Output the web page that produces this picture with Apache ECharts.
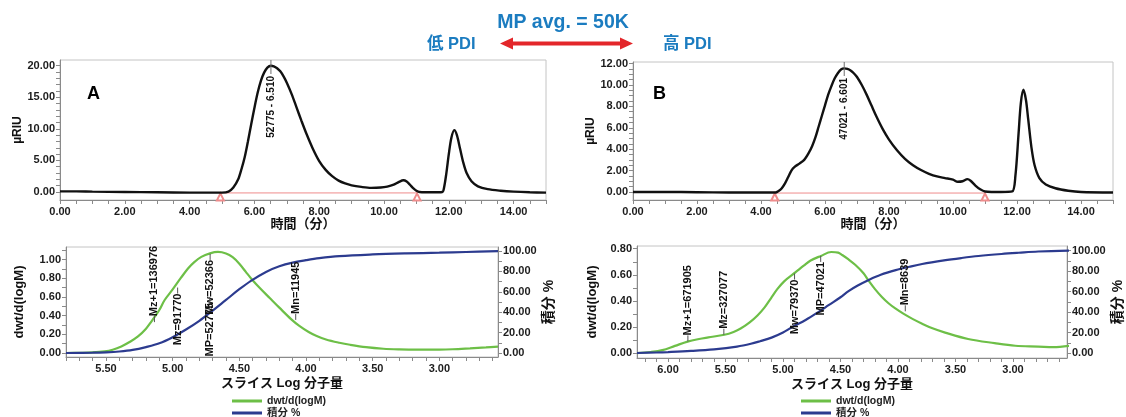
<!DOCTYPE html>
<html lang="ja">
<head>
<meta charset="utf-8">
<title>GPC MP avg. = 50K</title>
<script src="https://cdn.jsdelivr.net/npm/echarts@6.0.0/dist/echarts.min.js"></script>
<style>
  html, body { margin: 0; padding: 0; background: #ffffff; }
  #chart { width: 1126px; height: 417px; }
</style>
</head>
<body>
<div id="chart"></div>
<script>
// ---------- Chromatogram A: retention time (min) / RI response (µRIU) ----------
const timeA = [0.0, 0.5, 1.0, 2.0, 3.0, 4.0, 4.6, 5.0, 5.2, 5.35, 5.5, 5.6, 5.7, 5.8, 5.9, 6.0,
  6.1, 6.2, 6.3, 6.4, 6.51, 6.6, 6.7, 6.8, 6.9, 7.0, 7.15, 7.3, 7.45, 7.6, 7.8, 8.0,
  8.2, 8.4, 8.6, 8.8, 9.0, 9.3, 9.6, 9.9, 10.1, 10.3, 10.45, 10.6, 10.7, 10.8, 10.9, 11.0,
  11.1, 11.5, 11.8, 11.85, 11.92, 12.0, 12.08, 12.17, 12.25, 12.35, 12.45, 12.55, 12.7, 12.9, 13.2, 13.6,
  14.0, 14.5, 15.0];
const riuA = [0.1, 0.1, 0.05, 0.0, -0.05, -0.1, -0.1, -0.1, 0.05, 0.7, 2.0, 3.6, 5.5, 8.0, 10.7, 13.3,
  15.7, 17.6, 18.9, 19.7, 20.0, 19.9, 19.6, 19.1, 18.3, 17.3, 15.5, 13.4, 11.3, 9.3, 6.9, 4.9,
  3.5, 2.5, 1.8, 1.35, 1.05, 0.8, 0.65, 0.7, 0.85, 1.15, 1.55, 1.85, 1.65, 1.15, 0.6, 0.2,
  0.0, -0.05, 0.0, 0.6, 2.8, 6.0, 8.6, 9.8, 9.0, 6.8, 4.6, 3.0, 1.7, 0.9, 0.45, 0.2,
  0.05, -0.05, -0.1];
const peakMpA = 52775;
const peakTimeA = 6.510;
const baseTimesA = [4.95, 11.02];
const baseLevelA = -0.15;

// ---------- Chromatogram B ----------
const timeB = [0.0, 1.0, 2.0, 3.0, 4.0, 4.45, 4.55, 4.65, 4.75, 4.85, 4.95, 5.05, 5.2, 5.35, 5.5, 5.6,
  5.7, 5.8, 5.9, 6.0, 6.1, 6.2, 6.3, 6.4, 6.5, 6.601, 6.7, 6.8, 6.9, 7.0, 7.15, 7.3,
  7.45, 7.6, 7.8, 8.0, 8.25, 8.5, 8.75, 9.0, 9.25, 9.5, 9.75, 10.0, 10.15, 10.3, 10.45, 10.55,
  10.7, 10.85, 11.0, 11.5, 11.85, 11.95, 12.05, 12.12, 12.2, 12.28, 12.35, 12.45, 12.55, 12.7, 12.9, 13.2,
  13.6, 14.0, 15.0];
const riuB = [0.0, 0.0, -0.02, -0.05, -0.05, -0.05, 0.1, 0.35, 0.8, 1.4, 2.0, 2.35, 2.65, 3.0, 3.7, 4.3,
  5.1, 6.1, 7.1, 8.1, 9.1, 9.9, 10.6, 11.1, 11.45, 11.55, 11.5, 11.35, 11.1, 10.75, 10.0, 9.1,
  8.1, 7.1, 5.9, 4.9, 3.9, 3.1, 2.5, 2.05, 1.7, 1.45, 1.3, 1.15, 0.95, 1.0, 1.2, 1.05,
  0.6, 0.25, 0.05, 0.0, 0.05, 1.5, 5.5, 8.3, 9.55, 8.6, 6.8, 4.2, 2.5, 1.3, 0.7, 0.35,
  0.12, 0.0, -0.05];
const peakMpB = 47021;
const peakTimeB = 6.601;
const baseTimesB = [4.43, 11.0];
const baseLevelB = -0.1;

// ---------- Slice distribution A: dwt/d(logM) and cumulative % ----------
const logMDwtA = [5.80, 5.70, 5.60, 5.51, 5.45, 5.385, 5.32, 5.26, 5.20, 5.16, 5.10, 5.06, 5.00, 4.94, 4.885, 4.84,
  4.785, 4.72, 4.66, 4.60, 4.55, 4.50, 4.45, 4.41, 4.35, 4.27, 4.20, 4.11, 4.05, 3.98, 3.92, 3.85,
  3.75, 3.67, 3.55, 3.42, 3.30, 3.17, 3.00, 2.90, 2.77, 2.65, 2.56];
const dwtA = [0.000, 0.002, 0.006, 0.017, 0.035, 0.07, 0.12, 0.177, 0.26, 0.336, 0.46, 0.567, 0.68, 0.80, 0.904, 0.97,
  1.028, 1.066, 1.081, 1.065, 1.025, 0.955, 0.865, 0.795, 0.70, 0.585, 0.485, 0.36, 0.29, 0.225, 0.182, 0.145,
  0.11, 0.088, 0.062, 0.045, 0.038, 0.035, 0.036, 0.040, 0.050, 0.060, 0.068];
const logMCumA = [5.80, 5.60, 5.50, 5.40, 5.30, 5.20, 5.10, 5.00, 4.90, 4.80, 4.70, 4.60, 4.50, 4.41, 4.30, 4.20,
  4.10, 4.00, 3.90, 3.75, 3.50, 3.25, 3.00, 2.80, 2.56];
const cumA = [0.0, 0.3, 0.7, 1.5, 3.0, 5.8, 9.5, 15.5, 23.0, 31.5, 41.5, 52.0, 62.5, 71.0, 79.5, 85.0,
  88.6, 91.0, 93.0, 95.0, 96.6, 97.6, 98.3, 99.0, 99.8];
// molecular-weight averages marked on the slice plot
const avgNamesA = ['Mz+1', 'Mz', 'Mw', 'MP', 'Mn'];
const avgValuesA = [136976, 91770, 52366, 52775, 11945];
const avgAnchorA = [0.33, 0.70, 1.06, 0.60, 0.354];   // dwt/d(logM) level where each leader starts
const avgDirA = [1, -1, -1, -1, 1];                    // 1 = label above, -1 = label below

// ---------- Slice distribution B ----------
const logMDwtB = [6.27, 6.15, 6.05, 5.94, 5.83, 5.73, 5.65, 5.51, 5.43, 5.365, 5.29, 5.22, 5.16, 5.105, 5.05, 4.99,
  4.89, 4.82, 4.76, 4.67, 4.58, 4.52, 4.485, 4.43, 4.37, 4.30, 4.254, 4.20, 4.14, 4.08, 4.02, 3.95,
  3.87, 3.79, 3.70, 3.59, 3.39, 3.16, 2.98, 2.78, 2.65, 2.51];
const dwtB = [0.000, 0.008, 0.022, 0.055, 0.088, 0.108, 0.12, 0.14, 0.162, 0.19, 0.235, 0.29, 0.35, 0.42, 0.49, 0.55,
  0.62, 0.67, 0.71, 0.745, 0.775, 0.77, 0.752, 0.718, 0.675, 0.612, 0.553, 0.49, 0.43, 0.38, 0.34, 0.30,
  0.26, 0.225, 0.19, 0.157, 0.108, 0.076, 0.056, 0.05, 0.045, 0.055];
const logMCumB = [6.27, 6.10, 6.00, 5.80, 5.60, 5.40, 5.28, 5.20, 5.10, 5.00, 4.93, 4.80, 4.70, 4.60, 4.50, 4.43,
  4.35, 4.25, 4.15, 4.02, 3.90, 3.79, 3.60, 3.45, 3.30, 3.10, 2.95, 2.78, 2.51];
const cumB = [0.0, 0.5, 0.9, 2.0, 3.6, 6.3, 9.0, 11.5, 15.0, 20.0, 24.7, 32.5, 39.5, 47.0, 54.5, 60.5,
  66.0, 71.7, 76.5, 81.0, 84.3, 87.0, 90.5, 92.8, 94.8, 96.8, 98.0, 99.2, 100.0];
const avgNamesB = ['Mz+1', 'Mz', 'Mw', 'MP', 'Mn'];
const avgValuesB = [671905, 327077, 79370, 47021, 8639];
const avgAnchorB = [0.089, 0.14, 0.61, 0.745, 0.32];
const avgDirB = [1, 1, -1, -1, 1];

// ---------- tick label values ----------
const timeTicks = [0, 2, 4, 6, 8, 10, 12, 14];
const riuTicksA = [0, 5, 10, 15, 20];
const riuTicksB = [0, 2, 4, 6, 8, 10, 12];
const logMTicksA = [5.5, 5.0, 4.5, 4.0, 3.5, 3.0];
const logMTicksB = [6.0, 5.5, 5.0, 4.5, 4.0, 3.5, 3.0];
const dwtTicksA = [0, 0.2, 0.4, 0.6, 0.8, 1.0];
const dwtTicksB = [0, 0.2, 0.4, 0.6, 0.8];
const cumTicks = [0, 20, 40, 60, 80, 100];

// ---------- text ----------
const headline = 'MP avg. = 50K';
const lowText = '低 PDI';
const highText = '高 PDI';
const seriesDwt = 'dwt/d(logM)';
const seriesCum = '積分 %';

// ---------- styling ----------
const FONT = '"Liberation Sans", Arial, "Noto Sans CJK JP", sans-serif';
const BLUE_TEXT = '#1b7cc0';
const RED = '#e3262a';
const GREEN = '#6dbf47';
const NAVY = '#2c3b8f';
const AXIS = '#8a8a8a';

const zip = (xs, ys) => xs.map((x, i) => [x, ys[i]]);
const steps = (a, b, s) => {
  const out = [];
  for (let v = a; v <= b + 1e-9; v += s) out.push(Math.round(v * 1000) / 1000);
  return out;
};

function valueAxis(opts) {
  return {
    type: 'value',
    gridIndex: opts.grid,
    min: opts.min,
    max: opts.max,
    inverse: !!opts.inverse,
    position: opts.position,
    name: opts.name || '',
    nameLocation: 'middle',
    nameGap: opts.nameGap || 20,
    nameRotate: opts.nameRotate,
    nameTextStyle: { color: '#111', fontFamily: FONT, fontWeight: 'bold', fontSize: opts.nameSize || 13 },
    splitLine: { show: false },
    axisLine: { show: true, onZero: false, lineStyle: { color: AXIS, width: 1 } },
    axisTick: { show: true, length: 4, customValues: opts.ticks, lineStyle: { color: AXIS, width: 1 } },
    axisLabel: {
      customValues: opts.labels, margin: opts.margin || 5,
      color: '#1c1c1c', fontFamily: FONT, fontWeight: 'bold', fontSize: 11,
      formatter: v => Number(v).toFixed(2)
    }
  };
}

// vertical label hanging from the top of the plot at a peak apex
function peakLabel(mp, time) {
  return function (params, api) {
    const cs = params.coordSys;
    const px = api.coord([api.value(0), 0])[0];
    const top = cs.y;
    return {
      type: 'group',
      children: [
        { type: 'line', shape: { x1: px, y1: top, x2: px, y2: top + 14 }, style: { stroke: '#6e6e6e', lineWidth: 1 } },
        {
          type: 'text', x: px, y: top + 16, rotation: Math.PI / 2,
          style: {
            text: mp + ' - ' + time.toFixed(3), align: 'right', verticalAlign: 'middle',
            textAlign: 'right', textVerticalAlign: 'middle',
            font: 'bold 10px ' + FONT, fill: '#111'
          }
        }
      ]
    };
  };
}

// molecular-weight average marks: short leader from the curve, then rotated text
function avgLabel(names, values, dirs) {
  return function (params, api) {
    const i = params.dataIndex;
    const p = api.coord([api.value(0), api.value(1)]);
    const d = dirs[i];
    const endY = p[1] - d * 6;
    const anchorAlign = d > 0 ? 'left' : 'right';
    return {
      type: 'group',
      children: [
        { type: 'line', shape: { x1: p[0], y1: p[1], x2: p[0], y2: endY }, style: { stroke: '#555', lineWidth: 1 } },
        {
          type: 'text', x: p[0], y: endY, rotation: Math.PI / 2,
          style: {
            text: names[i] + '=' + values[i], align: anchorAlign, verticalAlign: 'middle',
            textAlign: anchorAlign, textVerticalAlign: 'middle',
            font: 'bold 11px ' + FONT, fill: '#111'
          }
        }
      ]
    };
  };
}

function baselineSeries(xi, yi, times, level) {
  return {
    type: 'line', xAxisIndex: xi, yAxisIndex: yi, silent: true, z: 1,
    data: times.map(t => [t, level]),
    symbol: 'emptyTriangle', symbolSize: 7, symbolOffset: [0, 4], showSymbol: true,
    lineStyle: { color: '#ef8c8c', width: 1 },
    itemStyle: { color: '#ef8c8c', borderColor: '#ef8c8c', borderWidth: 1 }
  };
}

function sliceLegend(left) {
  return {
    left: left, top: 395, width: 120, height: 30,
    orient: 'vertical', itemGap: 0, itemWidth: 30, itemHeight: 3, icon: 'rect',
    selectedMode: false, padding: 0, data: [seriesDwt, seriesCum],
    textStyle: { fontFamily: FONT, fontWeight: 'bold', fontSize: 10.5, color: '#222', lineHeight: 12 }
  };
}

const chart = echarts.init(document.getElementById('chart'), null, { renderer: 'canvas' });

const option = {
  animation: false,
  backgroundColor: '#ffffff',
  grid: [
    { left: 60, top: 60, width: 486, height: 140, show: true, borderColor: '#c4c4c4', borderWidth: 1, containLabel: false },
    { left: 633, top: 62, width: 480, height: 138, show: true, borderColor: '#c4c4c4', borderWidth: 1, containLabel: false },
    { left: 66, top: 247, width: 432, height: 110, show: true, borderColor: '#c4c4c4', borderWidth: 1, containLabel: false },
    { left: 637, top: 246, width: 432, height: 112, show: true, borderColor: '#c4c4c4', borderWidth: 1, containLabel: false }
  ],
  xAxis: [
    valueAxis({ grid: 0, min: 0, max: 15, labels: timeTicks, ticks: steps(0, 15, 0.5), name: '時間（分）', nameGap: 17, margin: 6 }),
    valueAxis({ grid: 1, min: 0, max: 15, labels: timeTicks, ticks: steps(0, 15, 0.5), name: '時間（分）', nameGap: 17, margin: 6 }),
    valueAxis({ grid: 2, min: 2.56, max: 5.80, inverse: true, labels: logMTicksA, ticks: steps(2.6, 5.8, 0.1), name: 'スライス Log 分子量', nameGap: 20, margin: 6 }),
    valueAxis({ grid: 3, min: 2.53, max: 6.27, inverse: true, labels: logMTicksB, ticks: steps(2.6, 6.2, 0.1), name: 'スライス Log 分子量', nameGap: 20, margin: 6 })
  ],
  yAxis: [
    valueAxis({ grid: 0, min: -1.27, max: 20.9, labels: riuTicksA, ticks: steps(0, 20, 1), name: 'µRIU', nameRotate: 90, nameGap: 33, nameSize: 12 }),
    valueAxis({ grid: 1, min: -0.75, max: 12.15, labels: riuTicksB, ticks: steps(0, 12, 0.5), name: 'µRIU', nameRotate: 90, nameGap: 31, nameSize: 12 }),
    valueAxis({ grid: 2, min: -0.043, max: 1.134, labels: dwtTicksA, ticks: steps(0, 1.1, 0.1), name: 'dwt/d(logM)', nameRotate: 90, nameGap: 40 }),
    valueAxis({ grid: 2, min: -3.9, max: 103.9, position: 'right', labels: cumTicks, ticks: steps(0, 100, 10), name: '積分 %', nameRotate: 90, nameGap: 44, nameSize: 14 }),
    valueAxis({ grid: 3, min: -0.038, max: 0.821, labels: dwtTicksB, ticks: steps(0, 0.8, 0.1), name: 'dwt/d(logM)', nameRotate: 90, nameGap: 38 }),
    valueAxis({ grid: 3, min: -4.9, max: 104.6, position: 'right', labels: cumTicks, ticks: steps(0, 100, 10), name: '積分 %', nameRotate: 90, nameGap: 44, nameSize: 14 })
  ],
  legend: [sliceLegend(232), sliceLegend(801)],
  graphic: [
    { type: 'text', left: 'center', x: 0, top: 13, style: { text: headline, font: 'bold 19.5px ' + FONT, fill: BLUE_TEXT } },
    { type: 'text', x: 427, y: 44, style: { text: lowText, font: 'bold 16.5px ' + FONT, fill: BLUE_TEXT, verticalAlign: 'middle', textVerticalAlign: 'middle' } },
    { type: 'text', x: 663, y: 44, style: { text: highText, font: 'bold 16.5px ' + FONT, fill: BLUE_TEXT, verticalAlign: 'middle', textVerticalAlign: 'middle' } },
    {
      type: 'polygon',
      shape: { points: [[500, 43.5], [513, 37.5], [513, 41.6], [620, 41.6], [620, 37.5], [633, 43.5], [620, 49.5], [620, 45.4], [513, 45.4], [513, 49.5]] },
      style: { fill: RED }
    },
    { type: 'text', x: 87, y: 94, style: { text: 'A', font: 'bold 18px ' + FONT, fill: '#000', verticalAlign: 'middle', textVerticalAlign: 'middle' } },
    { type: 'text', x: 653, y: 94, style: { text: 'B', font: 'bold 18px ' + FONT, fill: '#000', verticalAlign: 'middle', textVerticalAlign: 'middle' } }
  ],
  series: [
    // chromatogram A
    {
      type: 'line', xAxisIndex: 0, yAxisIndex: 0, silent: true, z: 3, showSymbol: false, smooth: 0.3,
      data: zip(timeA, riuA), lineStyle: { color: '#111', width: 2.4 }, itemStyle: { color: '#111' }
    },
    baselineSeries(0, 0, baseTimesA, baseLevelA),
    {
      type: 'custom', xAxisIndex: 0, yAxisIndex: 0, silent: true, z: 4,
      data: [[peakTimeA, 0]], encode: { x: 0, y: 1 }, renderItem: peakLabel(peakMpA, peakTimeA)
    },
    // chromatogram B
    {
      type: 'line', xAxisIndex: 1, yAxisIndex: 1, silent: true, z: 3, showSymbol: false, smooth: 0.3,
      data: zip(timeB, riuB), lineStyle: { color: '#111', width: 2.4 }, itemStyle: { color: '#111' }
    },
    baselineSeries(1, 1, baseTimesB, baseLevelB),
    {
      type: 'custom', xAxisIndex: 1, yAxisIndex: 1, silent: true, z: 4,
      data: [[peakTimeB, 0]], encode: { x: 0, y: 1 }, renderItem: peakLabel(peakMpB, peakTimeB)
    },
    // slice plot A
    {
      name: seriesDwt, type: 'line', xAxisIndex: 2, yAxisIndex: 2, silent: true, z: 3, showSymbol: false, smooth: 0.35,
      data: zip(logMDwtA, dwtA), lineStyle: { color: GREEN, width: 2.2 }, itemStyle: { color: GREEN }
    },
    {
      name: seriesCum, type: 'line', xAxisIndex: 2, yAxisIndex: 3, silent: true, z: 3, showSymbol: false, smooth: 0.35,
      data: zip(logMCumA, cumA), lineStyle: { color: NAVY, width: 2.2 }, itemStyle: { color: NAVY }
    },
    {
      type: 'custom', xAxisIndex: 2, yAxisIndex: 2, silent: true, z: 5, encode: { x: 0, y: 1 },
      data: avgValuesA.map((m, i) => [Math.log10(m), avgAnchorA[i]]),
      renderItem: avgLabel(avgNamesA, avgValuesA, avgDirA)
    },
    // slice plot B
    {
      name: seriesDwt, type: 'line', xAxisIndex: 3, yAxisIndex: 4, silent: true, z: 3, showSymbol: false, smooth: 0.35,
      data: zip(logMDwtB, dwtB), lineStyle: { color: GREEN, width: 2.2 }, itemStyle: { color: GREEN }
    },
    {
      name: seriesCum, type: 'line', xAxisIndex: 3, yAxisIndex: 5, silent: true, z: 3, showSymbol: false, smooth: 0.35,
      data: zip(logMCumB, cumB), lineStyle: { color: NAVY, width: 2.2 }, itemStyle: { color: NAVY }
    },
    {
      type: 'custom', xAxisIndex: 3, yAxisIndex: 4, silent: true, z: 5, encode: { x: 0, y: 1 },
      data: avgValuesB.map((m, i) => [Math.log10(m), avgAnchorB[i]]),
      renderItem: avgLabel(avgNamesB, avgValuesB, avgDirB)
    }
  ]
};

chart.setOption(option);
</script>
</body>
</html>
